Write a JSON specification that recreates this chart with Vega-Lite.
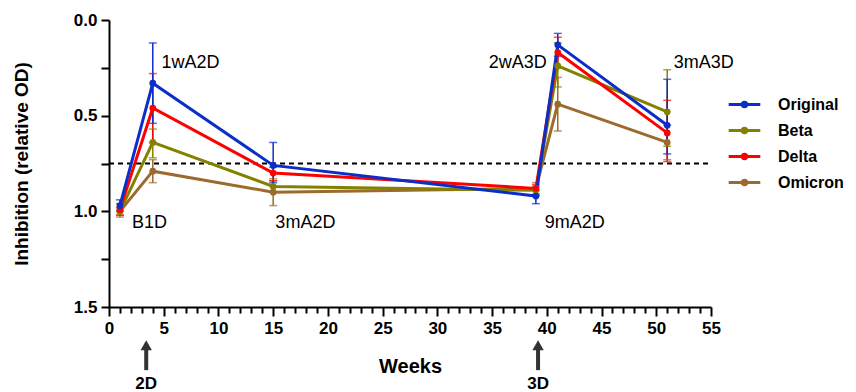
{
  "$schema": "https://vega.github.io/schema/vega-lite/v6.json",
  "width": 602,
  "height": 287,
  "autosize": {"type": "none"},
  "padding": {"left": 109, "top": 20, "right": 145, "bottom": 85},
  "config": {
    "font": "Liberation Sans",
    "view": {"stroke": null},
    "axis": {"grid": false, "domainColor": "black", "tickColor": "black", "domainWidth": 2, "tickWidth": 2, "labelColor": "black", "titleColor": "black", "labelFont": "Liberation Sans", "titleFont": "Liberation Sans", "labelFontWeight": "bold", "titleFontWeight": "bold", "labelFontSize": 17, "titleFontSize": 19, "labelOverlap": false, "labelBound": false, "labelFlush": false}
  },
  "datasets": {
    "series": [
      {"variant": "Omicron", "week": 1, "value": 1.0, "lo": 0.98, "hi": 1.03},
      {"variant": "Omicron", "week": 4, "value": 0.79, "lo": 0.73, "hi": 0.85},
      {"variant": "Omicron", "week": 15, "value": 0.90, "lo": 0.83, "hi": 0.97},
      {"variant": "Omicron", "week": 39, "value": 0.88, "lo": 0.85, "hi": 0.92},
      {"variant": "Omicron", "week": 41, "value": 0.44, "lo": 0.30, "hi": 0.58},
      {"variant": "Omicron", "week": 51, "value": 0.64, "lo": 0.55, "hi": 0.73},
      {"variant": "Beta", "week": 1, "value": 1.0, "lo": 0.98, "hi": 1.02},
      {"variant": "Beta", "week": 4, "value": 0.64, "lo": 0.57, "hi": 0.72},
      {"variant": "Beta", "week": 15, "value": 0.87, "lo": 0.84, "hi": 0.90},
      {"variant": "Beta", "week": 39, "value": 0.89, "lo": 0.87, "hi": 0.92},
      {"variant": "Beta", "week": 41, "value": 0.24, "lo": 0.12, "hi": 0.35},
      {"variant": "Beta", "week": 51, "value": 0.48, "lo": 0.26, "hi": 0.66},
      {"variant": "Delta", "week": 1, "value": 0.99, "lo": 0.96, "hi": 1.02},
      {"variant": "Delta", "week": 4, "value": 0.46, "lo": 0.28, "hi": 0.64},
      {"variant": "Delta", "week": 15, "value": 0.80, "lo": 0.77, "hi": 0.84},
      {"variant": "Delta", "week": 39, "value": 0.88, "lo": 0.86, "hi": 0.91},
      {"variant": "Delta", "week": 41, "value": 0.17, "lo": 0.09, "hi": 0.25},
      {"variant": "Delta", "week": 51, "value": 0.59, "lo": 0.42, "hi": 0.74},
      {"variant": "Original", "week": 1, "value": 0.97, "lo": 0.94, "hi": 1.0},
      {"variant": "Original", "week": 4, "value": 0.33, "lo": 0.12, "hi": 0.54},
      {"variant": "Original", "week": 15, "value": 0.76, "lo": 0.64, "hi": 0.85},
      {"variant": "Original", "week": 39, "value": 0.92, "lo": 0.89, "hi": 0.96},
      {"variant": "Original", "week": 41, "value": 0.13, "lo": 0.07, "hi": 0.19},
      {"variant": "Original", "week": 51, "value": 0.55, "lo": 0.31, "hi": 0.70}
    ],
    "labels": [
      {"text": "1wA2D", "week": 4.8, "value": 0.225},
      {"text": "B1D", "week": 2.1, "value": 1.06},
      {"text": "3mA2D", "week": 15.2, "value": 1.06},
      {"text": "9mA2D", "week": 39.8, "value": 1.06},
      {"text": "2wA3D", "week": 34.7, "value": 0.225},
      {"text": "3mA3D", "week": 51.6, "value": 0.225}
    ],
    "arrows": [
      {"text": "2D", "week": 3.4, "head": 1.7, "tail": 1.83, "labely": 1.9},
      {"text": "3D", "week": 39.2, "head": 1.7, "tail": 1.83, "labely": 1.9}
    ]
  },
  "layer": [
    {
      "data": {"values": [{"y": 0.75, "x1": 0, "x2": 55}]},
      "mark": {"type": "rule", "color": "black", "strokeWidth": 2, "strokeDash": [5, 4]},
      "encoding": {
        "x": {"field": "x1", "type": "quantitative", "scale": {"domain": [0, 55], "nice": false},
          "axis": {"values": [0,1,2,3,4,5,6,7,8,9,10,11,12,13,14,15,16,17,18,19,20,21,22,23,24,25,26,27,28,29,30,31,32,33,34,35,36,37,38,39,40,41,42,43,44,45,46,47,48,49,50,51,52,53,54,55],
            "tickCount": 100,
            "labelExpr": "datum.value % 5 == 0 ? format(datum.value, 'd') : ''",
            "tickSize": {"condition": {"test": "datum.value % 5 == 0", "value": 9}, "value": 6},
            "labelPadding": 4, "title": "Weeks", "titleFontSize": 20, "titlePadding": 20}},
        "x2": {"field": "x2"},
        "y": {"field": "y", "type": "quantitative", "scale": {"domain": [0, 1.5], "nice": false, "reverse": true},
          "axis": {"values": [0, 0.25, 0.5, 0.75, 1.0, 1.25, 1.5], "tickCount": 20, "labelExpr": "datum.value % 0.5 == 0 ? format(datum.value, '.1f') : ''", "tickSize": 8, "labelPadding": 4, "title": "Inhibition (relative OD)", "titlePadding": 42}}
      }
    },
    {
      "data": {"name": "series"},
      "mark": {"type": "rule", "strokeWidth": 1.5},
      "encoding": {
        "x": {"field": "week", "type": "quantitative"},
        "y": {"field": "lo", "type": "quantitative"},
        "y2": {"field": "hi"},
        "color": {"field": "variant", "type": "nominal",
          "scale": {"domain": ["Original", "Beta", "Delta", "Omicron"], "range": ["#0B2EC8", "#828200", "#FF0000", "#9C6A2C"]}}
      }
    },
    {
      "data": {"name": "series"},
      "mark": {"type": "tick", "orient": "horizontal", "size": 8, "thickness": 1.5},
      "encoding": {
        "x": {"field": "week", "type": "quantitative"},
        "y": {"field": "lo", "type": "quantitative"},
        "color": {"field": "variant", "type": "nominal"}
      }
    },
    {
      "data": {"name": "series"},
      "mark": {"type": "tick", "orient": "horizontal", "size": 8, "thickness": 1.5},
      "encoding": {
        "x": {"field": "week", "type": "quantitative"},
        "y": {"field": "hi", "type": "quantitative"},
        "color": {"field": "variant", "type": "nominal"}
      }
    },
    {
      "data": {"name": "series"},
      "mark": {"type": "line", "strokeWidth": 3, "point": {"filled": true, "size": 45}},
      "encoding": {
        "x": {"field": "week", "type": "quantitative"},
        "y": {"field": "value", "type": "quantitative"},
        "color": {"field": "variant", "type": "nominal",
          "legend": {"title": null, "orient": "none", "legendX": 618, "legendY": 67, "labelFont": "Liberation Sans", "labelFontWeight": "bold", "labelFontSize": 16, "labelColor": "black",
            "symbolType": "M-1,0L1,0M-0.15,0A0.15,0.15 0 1,1 0.15,0A0.15,0.15 0 1,1 -0.15,0Z", "symbolStrokeWidth": 3, "symbolSize": 1000, "labelOffset": 16, "rowPadding": -8,
            "encode": {"symbols": {"update": {"fill": {"scale": "color", "field": "value"}, "fillOpacity": {"value": 1}}}}}}
      }
    },
    {
      "data": {"name": "labels"},
      "mark": {"type": "text", "align": "left", "baseline": "middle", "fontSize": 18, "color": "black"},
      "encoding": {
        "x": {"field": "week", "type": "quantitative"},
        "y": {"field": "value", "type": "quantitative"},
        "text": {"field": "text"}
      }
    },
    {
      "data": {"name": "arrows"},
      "mark": {"type": "rule", "color": "#333333", "strokeWidth": 4},
      "encoding": {
        "x": {"field": "week", "type": "quantitative"},
        "y": {"field": "head", "type": "quantitative"},
        "y2": {"field": "tail"}
      }
    },
    {
      "data": {"name": "arrows"},
      "mark": {"type": "point", "shape": "triangle-up", "filled": true, "color": "#333333", "size": 130, "opacity": 1},
      "encoding": {
        "x": {"field": "week", "type": "quantitative"},
        "y": {"field": "head", "type": "quantitative"}
      }
    },
    {
      "data": {"name": "arrows"},
      "mark": {"type": "text", "baseline": "middle", "fontSize": 17, "fontWeight": "bold", "color": "black"},
      "encoding": {
        "x": {"field": "week", "type": "quantitative"},
        "y": {"field": "labely", "type": "quantitative"},
        "text": {"field": "text"}
      }
    }
  ]
}
